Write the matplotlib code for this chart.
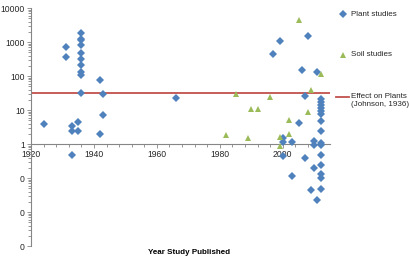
import matplotlib.pyplot as plt
from matplotlib.lines import Line2D
from matplotlib.ticker import FixedLocator, MultipleLocator, LogLocator, NullFormatter

plt.rcParams["font.family"] = ["Liberation Sans", "DejaVu Sans"]

# plant studies: year published, effect value
PLANT_YEARS = [
    1924, 1931, 1931, 1933, 1933, 1933, 1935, 1935,
    1936, 1936, 1936, 1936, 1936, 1936, 1936, 1936, 1936, 1936,
    1942, 1942, 1943, 1943, 1966, 1997, 1999, 2000, 2000, 2000,
    2003, 2003, 2005, 2006, 2007, 2007, 2008, 2009, 2010, 2010, 2010,
    2011, 2011,
    2012, 2012, 2012, 2012, 2012, 2012, 2012, 2012, 2012, 2012,
    2012, 2012, 2012, 2012, 2012,
]
PLANT_VALUES = [
    4.0, 700, 365, 3.4, 2.4, 0.49, 4.3, 2.4,
    1870, 1230, 1170, 790, 465, 306, 204, 133, 104, 32,
    78, 2.0, 29, 7.3, 22.5, 440, 1050, 1.5, 1.12, 0.44,
    1.12, 0.115, 4.1, 155, 25.7, 0.39, 1490, 0.044, 1.24, 0.96, 0.197,
    128, 0.023,
    20.4, 16.7, 14.0, 11.4, 9.1, 7.6, 4.9, 2.4, 1.06, 0.95,
    0.48, 0.24, 0.13, 0.098, 0.049,
]

# soil studies
SOIL_YEARS = [1982, 1985, 1989, 1990, 1992, 1996, 1999, 1999, 2002, 2002,
              2005, 2008, 2009, 2012]
SOIL_VALUES = [1.9, 29, 1.47, 10.4, 10.4, 24, 1.65, 0.87, 5.2, 2.0,
               4570, 8.9, 38, 116]

# Johnson (1936) reference effect
EFFECT_JOHNSON = 31

Y_TICKS = [0.001, 0.01, 0.1, 1, 10, 100, 1000, 10000]
Y_TICK_LABELS = ["0", "0", "0", "1", "10", "100", "1000", "10000"]
X_TICKS = [1920, 1940, 1960, 1980, 2000]

BLUE = "#4F81BD"
GREEN = "#9BBB59"
RED = "#C0504D"
AXIS_GREY = "#868686"
TEXT = "#262626"

W, H = 409, 257
fig = plt.figure(figsize=(W / 100, H / 100), dpi=100)
ax = fig.add_axes([31 / W, 1 - 246 / H, (330 - 31) / W, (246 - 8) / H])

ax.plot(PLANT_YEARS, PLANT_VALUES, linestyle="none", marker="D",
        markersize=3.6, color=BLUE, markeredgewidth=0, zorder=3)
ax.plot(SOIL_YEARS, SOIL_VALUES, linestyle="none", marker="^",
        markersize=4.6, color=GREEN, markeredgewidth=0, zorder=3)
ax.axhline(EFFECT_JOHNSON, color=RED, linewidth=1.3, zorder=2)

ax.set_yscale("log")
ax.set_ylim(0.001, 10000)
ax.set_xlim(1920, 2015)

ax.spines["top"].set_visible(False)
ax.spines["right"].set_visible(False)
ax.spines["bottom"].set_position(("data", 1))
for s in ("left", "bottom"):
    ax.spines[s].set_color(AXIS_GREY)
    ax.spines[s].set_linewidth(0.8)

ax.yaxis.set_major_locator(FixedLocator(Y_TICKS))
ax.set_yticklabels(Y_TICK_LABELS)
ax.yaxis.set_minor_locator(LogLocator(base=10, subs=range(2, 10), numticks=20))
ax.yaxis.set_minor_formatter(NullFormatter())

ax.set_xticks(X_TICKS)
ax.set_xticklabels([str(x) for x in X_TICKS])
ax.xaxis.set_minor_locator(MultipleLocator(4))

ax.tick_params(axis="both", which="both", colors=AXIS_GREY, labelcolor=TEXT,
               labelsize=6.2, width=0.6)
ax.tick_params(axis="both", which="major", length=3, pad=1.5)
ax.tick_params(axis="both", which="minor", length=2)

fig.text(189 / W, 1 - 252 / H, "Year Study Published", ha="center",
         va="center", fontsize=5.8, fontweight="bold", color="black")

# legend on the right
fig.add_artist(Line2D([343 / W], [1 - 14 / H], marker="D", markersize=3.6,
                      color=BLUE, markeredgewidth=0, linestyle="none"))
fig.text(351 / W, 1 - 14 / H, "Plant studies", va="center", fontsize=5.8,
         color=TEXT)
fig.add_artist(Line2D([343 / W], [1 - 55 / H], marker="^", markersize=4.6,
                      color=GREEN, markeredgewidth=0, linestyle="none"))
fig.text(351 / W, 1 - 55 / H, "Soil studies", va="center", fontsize=5.8,
         color=TEXT)
fig.add_artist(Line2D([336 / W, 349 / W], [1 - 96.5 / H, 1 - 96.5 / H],
                      color=RED, linewidth=1.3))
fig.text(351 / W, 1 - 96 / H, "Effect on Plants", va="center", fontsize=5.8,
         color=TEXT)
fig.text(351 / W, 1 - 105 / H, "(Johnson, 1936)", va="center", fontsize=5.8,
         color=TEXT)

fig.savefig("out.png", dpi=100)
